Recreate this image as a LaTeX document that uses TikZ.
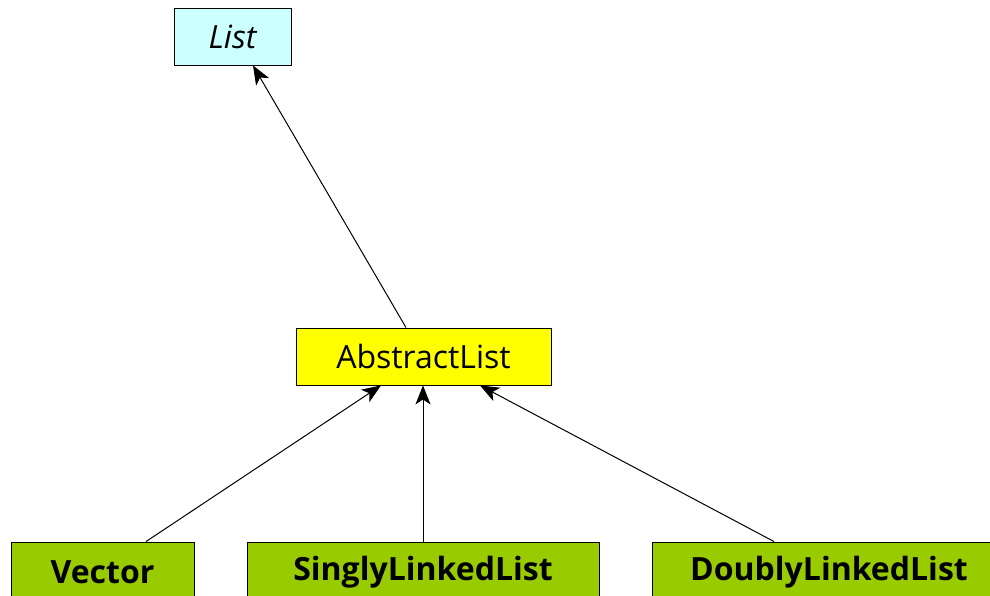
\documentclass[tikz,border=0pt]{standalone}
\usepackage{fontspec}
\setmainfont{Open Sans}
\usetikzlibrary{arrows.meta}
\definecolor{ifacecol}{HTML}{CCFFFF}
\definecolor{abscol}{HTML}{FFFF00}
\definecolor{implcol}{HTML}{99CC00}
\begin{document}
\begin{tikzpicture}[x=1pt,y=1pt,
    cls/.style={draw=black, line width=0.9pt, minimum height=57pt, inner sep=0pt, font=\fontsize{32}{38}\selectfont},
    impl/.style={cls, fill=implcol, minimum height=60pt, font=\fontsize{32}{38}\selectfont\bfseries},
    inherit/.style={-{Stealth[length=19pt,width=15pt,inset=5pt]}, line width=1pt}]
		\useasboundingbox (0,0) rectangle (990,596);
		\node[cls, fill=ifacecol, minimum width=117pt] (list) at (232.5,559.5) {\itshape List};
		\node[cls, fill=abscol, minimum width=255pt] (abstract) at (423.5,239.5) {AbstractList};
		\node[impl, minimum width=183pt] (vector) at (102.5,24) {Vector};
		\node[impl, minimum width=352pt] (singly) at (423,24) {SinglyLinkedList};
		\node[impl, minimum width=354pt] (doubly) at (829,24) {DoublyLinkedList};
		\draw[inherit] ([xshift=-17.5pt]abstract.north) -- ([xshift=20.5pt]list.south);
		\draw[inherit] ([xshift=43.5pt]vector.north) -- ([xshift=-42.5pt]abstract.south);
		\draw[inherit] (singly.north) -- (singly.north |- abstract.south);
		\draw[inherit] ([xshift=-55pt]doubly.north) -- ([xshift=56.5pt]abstract.south);
\end{tikzpicture}
\end{document}
